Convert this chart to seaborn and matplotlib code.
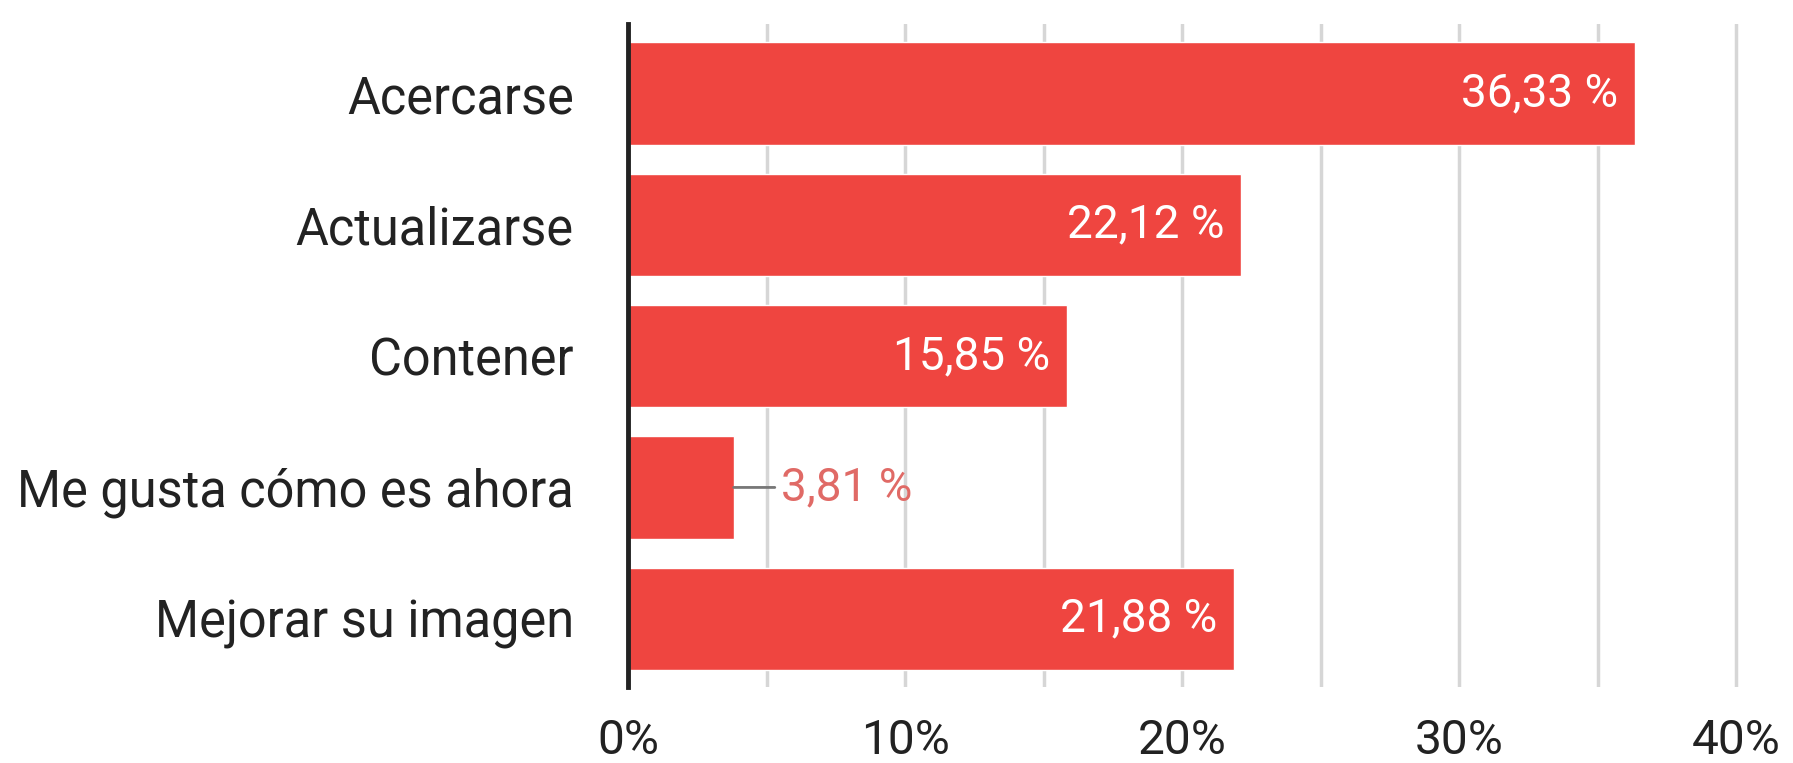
import matplotlib
matplotlib.use("Agg")
import matplotlib.pyplot as plt
import seaborn as sns
import pandas as pd

categories = ["Acercarse", "Actualizarse", "Contener", "Me gusta cómo es ahora", "Mejorar su imagen"]
values = [36.33, 22.12, 15.85, 3.81, 21.88]
value_labels = ["36,33 %", "22,12 %", "15,85 %", "3,81 %", "21,88 %"]
xticks = [0, 10, 20, 30, 40]
xtick_labels = ["0%", "10%", "20%", "30%", "40%"]

sns.set_theme(style="white")
plt.rcParams["font.family"] = ["Roboto", "DejaVu Sans"]

df = pd.DataFrame({"cat": categories, "val": values})

fig = plt.figure(figsize=(17.93, 7.63), dpi=100)
ax = fig.add_axes([0.3503, 1 - 687 / 763, 0.99 - 0.3503, (687 - 24) / 763])

bar_color = "#EF4540"
sns.barplot(data=df, x="val", y="cat", orient="h", color=bar_color, saturation=1,
            width=0.78, ax=ax, zorder=3)

ax.set_xlim(0, 41.4)
ax.set_ylim(4.52, -0.53)
ax.set_xticks(xticks)
ax.set_xticks([5, 15, 25, 35], minor=True)
ax.set_xticklabels(xtick_labels)
ax.grid(axis="x", which="both", color="#d6d6d6", linewidth=2.5, zorder=0)
ax.set_axisbelow(True)
for s in ["top", "right", "bottom"]:
    ax.spines[s].set_visible(False)
ax.spines["left"].set_color("#222222")
ax.spines["left"].set_linewidth(3.5)
ax.spines["left"].set_zorder(5)
ax.set_xlabel("")
ax.set_ylabel("")
ax.tick_params(axis="x", which="both", length=0, pad=22, labelsize=34.5, labelcolor="#222222")
ax.tick_params(axis="y", length=0, pad=39, labelsize=36.4, labelcolor="#222222")

for i, (v, lab) in enumerate(zip(values, value_labels)):
    if v > 8:
        ax.annotate(lab, xy=(v, i), xytext=(-12, 0), textcoords="offset points",
                    ha="right", va="center", color="white", fontsize=33, zorder=6)
    else:
        ax.annotate(lab, xy=(v, i), xytext=(34, 0), textcoords="offset points",
                    ha="left", va="center", color="#E06A66", fontsize=33, zorder=6,
                    arrowprops=dict(arrowstyle="-", color="#777777", lw=2,
                                    shrinkA=2, shrinkB=0))

fig.savefig("out.png", dpi=100, facecolor="white")
